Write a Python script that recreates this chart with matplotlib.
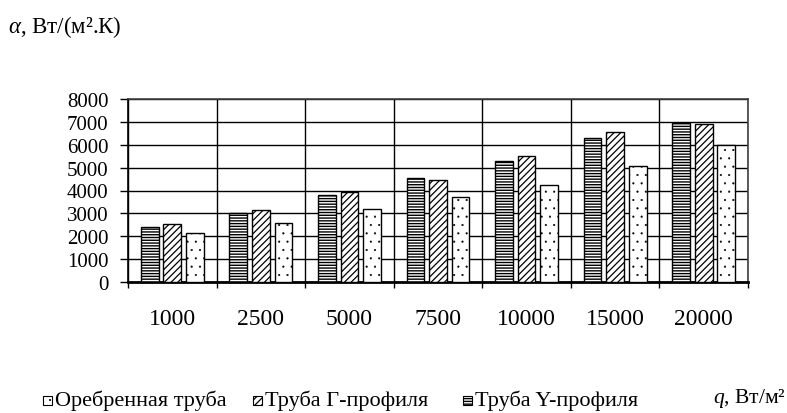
import matplotlib.pyplot as plt
import matplotlib.patches as mpatches
import numpy as np

plt.rcParams['font.family'] = ['Liberation Serif', 'DejaVu Serif']
plt.rcParams['mathtext.fontset'] = 'custom'
plt.rcParams['mathtext.rm'] = 'Liberation Serif'
plt.rcParams['mathtext.it'] = 'Liberation Serif:italic'
plt.rcParams['hatch.linewidth'] = 1.0

# heat flux, W/m2
q_labels = ['1000', '2500', '5000', '7500', '10000', '15000', '20000']
# heat transfer coefficient, W/(m2.K)
alpha_y = [2400, 3000, 3800, 4550, 5300, 6300, 6950]
alpha_g = [2550, 3150, 3950, 4450, 5500, 6550, 6900]
alpha_fin = [2150, 2600, 3200, 3700, 4250, 5050, 6000]

names = ['Труба Y-профиля', 'Труба Г-профиля', 'Оребренная труба']
hatches = ['------', '/////', '..']
hatch_lw = [1.0, 0.9, 0.3]

W, H = 787, 414
fig = plt.figure(figsize=(W / 100, H / 100), dpi=100)
ax = fig.add_axes([128/W, 1 - 283/H, 620/W, 183/H])

x = np.arange(len(q_labels))
w = 0.2
offsets = [-0.255, 0.0, 0.255]
series = [alpha_y, alpha_g, alpha_fin]

for vals, off, h, hl, name in zip(series, offsets, hatches, hatch_lw, names):
    b = ax.bar(x + off, vals, w, facecolor='white', edgecolor='black',
               hatch=h, linewidth=1.0, zorder=3, label=name)
    for p in b:
        p.set_hatch_linewidth(hl)

ax.set_xlim(-0.5, len(q_labels) - 0.5)
ax.set_ylim(0, 8000)
ax.set_yticks(np.arange(0, 8001, 1000))
ax.tick_params(axis='y', direction='out', length=6, width=1, pad=8,
               labelsize=15, colors='black')

# labels sit at the category centres, ticks and grid at the boundaries
ax.set_xticks(x)
ax.set_xticklabels(q_labels)
ax.tick_params(axis='x', which='major', length=0, pad=19, labelsize=17)
ax.set_xticks(np.arange(-0.5, len(q_labels)), minor=True)
ax.tick_params(axis='x', which='minor', direction='out', length=4, width=1)

ax.grid(axis='y', which='major', color='black', linewidth=1.0, zorder=0)
ax.grid(axis='x', which='minor', color='black', linewidth=1.0, zorder=0)
ax.set_axisbelow(True)

ax.spines['bottom'].set_linewidth(2.0)
ax.spines['left'].set_linewidth(1.2)
for s in ['top', 'right']:
    ax.spines[s].set_linewidth(1.2)
    ax.spines[s].set_color('#404040')

fig.text(8/W, 1 - 27/H, r'$\alpha$, Вт/(м².К)', fontsize=16.5,
         ha='left', va='center')

# legend entries laid out along the bottom edge
legend_x = [43, 253, 463]
legend_y = 401
box = 9
for lx, h, hl, name in zip(legend_x, hatches[::-1], hatch_lw[::-1],
                           names[::-1]):
    r = mpatches.Rectangle((lx/W, 1 - (legend_y + box/2)/H), box/W, box/H,
                           transform=fig.transFigure, facecolor='white',
                           edgecolor='black', hatch=h, linewidth=0.8)
    r.set_hatch_linewidth(hl)
    fig.add_artist(r)
    fig.text((lx + box + 3)/W, 1 - legend_y/H, name, fontsize=16,
             ha='left', va='center')

fig.text(713/W, 1 - 399/H, r'$q$, Вт/м²', fontsize=15.5,
         ha='left', va='center')

fig.savefig('out.png', dpi=100)
